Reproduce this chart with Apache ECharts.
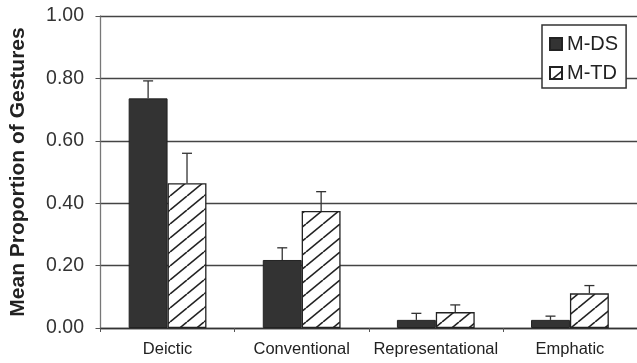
<!DOCTYPE html>
<html><head><meta charset="utf-8">
<script src="https://cdn.jsdelivr.net/npm/echarts@6/dist/echarts.min.js"></script>
<style>html,body{margin:0;padding:0;background:#fff}#c{width:637px;height:363px}</style>
</head><body><div id="c"></div>
<script>
var categories = ['Deictic', 'Conventional', 'Representational', 'Emphatic'];
var mdsMean = [0.736, 0.218, 0.026, 0.026];
var mdsErr  = [0.792, 0.257, 0.047, 0.038];
var mtdMean = [0.464, 0.375, 0.051, 0.111];
var mtdErr  = [0.560, 0.437, 0.074, 0.136];
var yTicks = [0, 0.2, 0.4, 0.6, 0.8, 1.0];

function hatch() {
  var w = 17, h = 14;
  var cv = document.createElement('canvas');
  cv.width = w; cv.height = h;
  var ctx = cv.getContext('2d');
  ctx.fillStyle = '#fff'; ctx.fillRect(0, 0, w, h);
  ctx.strokeStyle = '#222'; ctx.lineWidth = 1.6;
  [-w, 0, w].forEach(function (o) {
    ctx.beginPath(); ctx.moveTo(o, h); ctx.lineTo(o + w, 0); ctx.stroke();
  });
  return { image: cv, repeat: 'repeat' };
}
var hatchFill = hatch();

var font = 'Liberation Sans, Arial, sans-serif';
var chart = echarts.init(document.getElementById('c'), null, { renderer: 'canvas' });

function errSeries(name, means, errs, sign) {
  return {
    type: 'custom', name: name + ' err', silent: true, z: 5,
    data: categories.map(function (c, i) { return [i, means[i], errs[i]]; }),
    renderItem: function (params, api) {
      var band = api.size([1, 0])[0];
      var p0 = api.coord([api.value(0), api.value(1)]);
      var p1 = api.coord([api.value(0), api.value(2)]);
      var x = p0[0] + sign * band * 0.145;
      var st = { stroke: '#333', lineWidth: 1.3 };
      return { type: 'group', children: [
        { type: 'line', shape: { x1: x, y1: p0[1], x2: x, y2: p1[1] }, style: st },
        { type: 'line', shape: { x1: x - 5, y1: p1[1], x2: x + 5, y2: p1[1] }, style: st }
      ]};
    }
  };
}

chart.setOption({
  animation: false,
  backgroundColor: '#fff',
  grid: { left: 100, top: 16, width: 545, height: 312, containLabel: false },
  legend: {
    left: 542, top: 25, orient: 'vertical',
    data: [{ name: 'M-DS', icon: 'rect' }, { name: 'M-TD', icon: 'rect' }],
    itemWidth: 12, itemHeight: 12, itemGap: 9,
    backgroundColor: '#fff', borderColor: '#333', borderWidth: 1.5,
    padding: [9, 8, 5, 7],
    textStyle: { fontFamily: font, fontSize: 20, color: '#222' }
  },
  xAxis: {
    type: 'category', data: categories,
    axisLine: { lineStyle: { color: '#333', width: 1.3 } },
    axisTick: { show: true, length: 4, lineStyle: { color: '#555' } },
    axisLabel: { fontFamily: font, fontSize: 16.5, color: '#222', margin: 13, interval: 0 }
  },
  yAxis: {
    type: 'value', min: 0, max: 1, interval: 0.2,
    name: 'Mean Proportion of Gestures', nameLocation: 'middle', nameGap: 71.5,
    nameTextStyle: { fontFamily: font, fontSize: 21, fontWeight: 'bold', color: '#222' },
    axisLine: { show: true, lineStyle: { color: '#777', width: 1.3 } },
    axisTick: { show: true, length: 5, lineStyle: { color: '#555' } },
    axisLabel: { fontFamily: font, fontSize: 19.5, color: '#333', margin: 16.5,
      formatter: function (v) { return v.toFixed(2); } },
    splitLine: { lineStyle: { color: '#444', width: 1.4 } }
  },
  series: [
    { name: 'M-DS', type: 'bar', data: mdsMean, barWidth: '29%', barGap: '0%',
      itemStyle: { color: '#333', borderColor: '#222', borderWidth: 1 } },
    { name: 'M-TD', type: 'bar', data: mtdMean, barWidth: '29%', barGap: '0%',
      itemStyle: { color: hatchFill, borderColor: '#222', borderWidth: 1.3 } },
    errSeries('M-DS', mdsMean, mdsErr, -1),
    errSeries('M-TD', mtdMean, mtdErr, 1)
  ]
});
</script></body></html>
